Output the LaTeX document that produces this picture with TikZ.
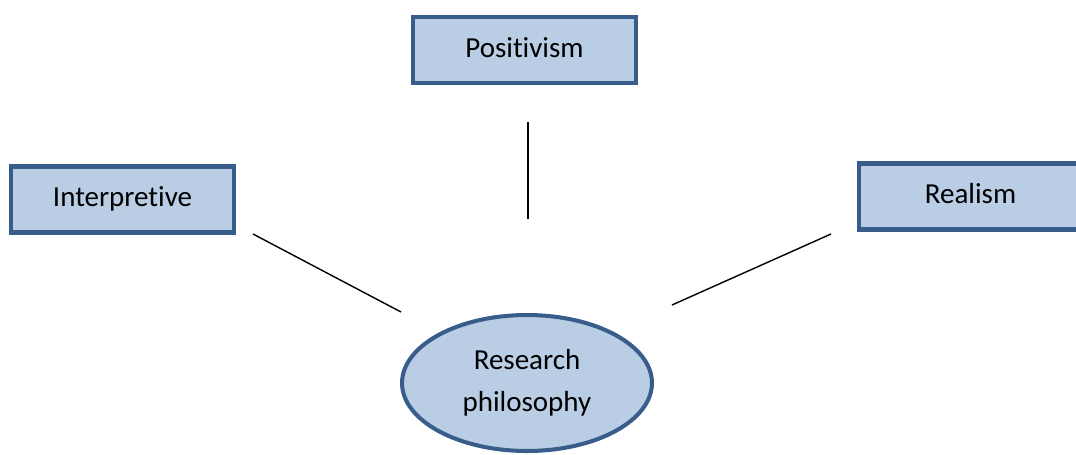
\documentclass[tikz,border=0pt]{standalone}
\usepackage{fontspec}
\setmainfont[Ligatures=NoCommon]{Carlito}
\usetikzlibrary{shapes.geometric}
\definecolor{boxfill}{HTML}{B9CDE5}
\definecolor{boxline}{HTML}{385D8A}

\begin{document}
\begin{tikzpicture}[
  x=0.02cm, y=-0.02cm,
  school/.style={draw=boxline, fill=boxfill, line width=2.3pt, minimum width=4.46cm, minimum height=1.32cm, text height=11pt, text depth=2.8pt, font=\fontsize{16.5}{20}\selectfont},
  core/.style={ellipse, draw=boxline, fill=boxfill, line width=2.3pt, minimum width=5.0cm, minimum height=2.72cm, align=center, font=\fontsize{16.5}{24}\selectfont},
  link/.style={line width=0.8pt}
]
  \useasboundingbox (0,0) rectangle (1076,454);

  % The three schools
  \node[school] (positivism) at (524.5, 50) {Positivism};
  \node[school] (interpretive) at (122.5, 199.5) {Interpretive};
  \node[school] (realism) at (970.5, 196.5) {Realism};

  % Central ellipse
  \node[core] (philosophy) at (527, 383) {Research\\philosophy};

  % Loose line ends
  \coordinate (pos-end) at (528, 122);
  \coordinate (pos-start) at (528, 219);
  \coordinate (int-end) at (253, 234);
  \coordinate (int-start) at (401, 312);
  \coordinate (rea-end) at (831, 234);
  \coordinate (rea-start) at (672, 305);

  % Lines
  \draw[link] (pos-start) -- (pos-end);
  \draw[link] (int-start) -- (int-end);
  \draw[link] (rea-start) -- (rea-end);
\end{tikzpicture}
\end{document}
